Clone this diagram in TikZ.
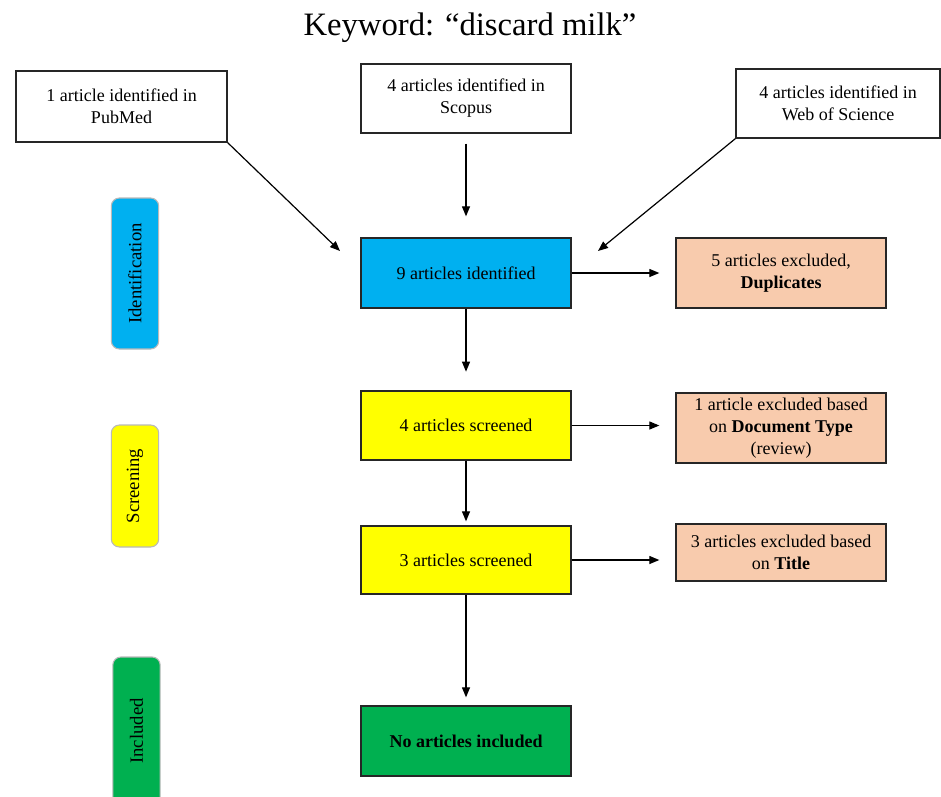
\documentclass[tikz,border=0pt]{standalone}
\usepackage{fontspec}
\setmainfont{Liberation Serif}
\usetikzlibrary{arrows.meta}
\definecolor{idblue}{HTML}{00B0F0}
\definecolor{scyellow}{HTML}{FFFF00}
\definecolor{incgreen}{HTML}{00B050}
\definecolor{peach}{HTML}{F8CBAD}
\begin{document}
\begin{tikzpicture}[x=0.75pt,y=-0.75pt,
  box/.style={draw=black!85, line width=1pt, minimum width=157.5pt, minimum height=52.5pt,
    align=center, inner sep=2pt, font=\fontsize{13.5}{16.5}\selectfont},
  sidebox/.style={draw=gray!55, line width=0.8pt, rounded corners=6pt, rotate=90,
    minimum height=35.5pt, inner sep=2pt, font=\fontsize{14}{16}\selectfont},
  arr/.style={line width=0.9pt, -{Triangle[length=7.5pt,width=6pt]}}]
\useasboundingbox (0,0) rectangle (941,796);
\clip (0,0) rectangle (941,796);
% title
\node[font=\fontsize{24.5}{28}\selectfont] (title) at (470,28) {Keyword: “discard milk”};
% sources
\node[box, minimum width=158.25pt, minimum height=53.25pt] (pub) at (121.5,106.5) {1 article identified in\\PubMed};
\node[box, minimum height=51.75pt] (scop) at (466,98.5) {4 articles identified in\\Scopus};
\node[box, minimum width=153pt, minimum height=51.75pt] (wos) at (838,103.5) {4 articles identified in\\Web of Science};
% main column
\node[box, fill=idblue] (n9) at (466,273) {9 articles identified};
\node[box, fill=scyellow, minimum height=51.75pt] (s4) at (466,425.5) {4 articles screened};
\node[box, fill=scyellow, minimum height=51pt] (s3) at (466,560) {3 articles screened};
\node[box, fill=incgreen] (inc) at (466,741) {\textbf{No articles included}};
% exclusions
\node[box, fill=peach] (e1) at (781,273) {5 articles excluded,\\\textbf{Duplicates}};
\node[box, fill=peach] (e2) at (781,428) {1 article excluded based\\on \textbf{Document Type}\\(review)};
\node[box, fill=peach, minimum height=42.75pt] (e3) at (781,552.5) {3 articles excluded based\\on \textbf{Title}};
% side labels
\node[sidebox, fill=idblue, minimum width=113.25pt] (lid) at (135,273.5) {Identification};
\node[sidebox, fill=scyellow, minimum width=91.5pt] (lsc) at (135,486) {Screening};
\node[sidebox, fill=incgreen, minimum width=111pt] (lin) at (136.5,731) {Included};
% connectors
\coordinate (pubEnd) at (340,251);
\coordinate (wosEnd) at (598,251);
\draw[arr] (pub.south east) -- (pubEnd);
\draw[arr] (wos.south west) -- (wosEnd);
\draw[arr, shorten <=7.5pt, shorten >=15.75pt] (scop.south) -- (n9.north);
\draw[arr, shorten >=12pt] (n9.east) -- (e1.west);
\draw[arr, shorten >=14pt] (n9.south) -- (s4.north);
\draw[arr, shorten >=12pt] (s4.east) -- (s4.east -| e2.west);
\draw[arr, shorten >=3pt] (s4.south) -- (s3.north);
\draw[arr, shorten >=12pt] (s3.east) -- (s3.east -| e3.west);
\draw[arr, shorten >=6pt] (s3.south) -- (inc.north);
\end{tikzpicture}
\end{document}
